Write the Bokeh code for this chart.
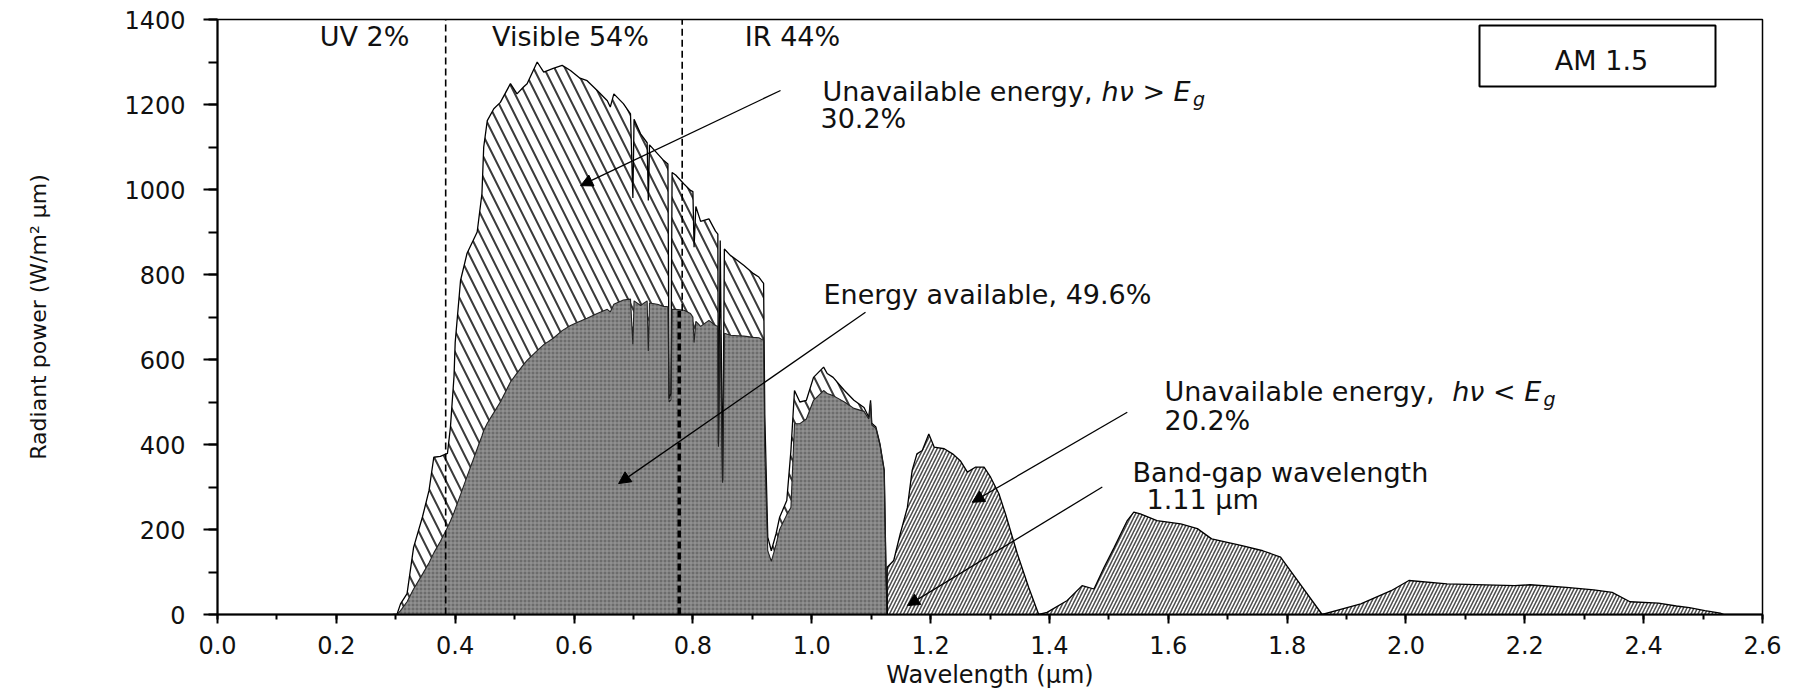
from bokeh.plotting import figure
from bokeh.models import (Range1d, SingleIntervalTicker, PrintfTickFormatter,
                          Label, Arrow, NormalHead, BoxAnnotation)
from bokeh.embed import file_html
from bokeh.resources import INLINE

# ---------------- data ----------------
# Spectrum above the band gap (lambda < 1.127 um)
wl_vis = [0.295, 0.302, 0.308, 0.319, 0.330, 0.345, 0.356, 0.364, 0.375, 0.387,
          0.392, 0.398, 0.400, 0.409, 0.420, 0.437, 0.445, 0.448, 0.454, 0.465,
          0.476, 0.493, 0.504, 0.515, 0.521, 0.538, 0.549, 0.565, 0.580, 0.594,
          0.610, 0.622, 0.639, 0.656, 0.661, 0.667, 0.683, 0.695, 0.699, 0.701,
          0.712, 0.723, 0.725, 0.727, 0.740, 0.751, 0.758, 0.760, 0.763, 0.765,
          0.771, 0.785, 0.796, 0.800, 0.802, 0.805, 0.813, 0.827, 0.838, 0.842,
          0.843, 0.846, 0.850, 0.853, 0.863, 0.875, 0.886, 0.902, 0.911, 0.919,
          0.921, 0.926, 0.932, 0.940, 0.946, 0.958, 0.965, 0.971, 0.980, 0.991,
          1.003, 1.020, 1.026, 1.036, 1.055, 1.071, 1.088, 1.096, 1.099, 1.101,
          1.108, 1.115, 1.122, 1.125, 1.127]
# total AM1.5 radiant power (outer curve)
irr_total = [0, 0, 25, 49, 158, 230, 292, 370, 372, 379,
             441, 560, 640, 786, 850, 900, 990, 1100, 1162, 1190,
             1205, 1249, 1225, 1241, 1249, 1300, 1276, 1285, 1292, 1280,
             1262, 1256, 1233, 1209, 1194, 1225, 1202, 1178, 980, 1165,
             1131, 1110, 974, 1105, 1085, 1068, 1060, 508, 520, 1040,
             1034, 1013, 998, 995, 864, 960, 925, 931, 902, 895,
             402, 880, 315, 860, 845, 833, 821, 802, 794, 779,
             470, 182, 150, 190, 229, 268, 386, 527, 500, 504,
             558, 582, 567, 558, 527, 504, 487, 464, 504, 450,
             441, 400, 340, 100, 0]
# energy available to the cell (inner, grey curve)
irr_available = [0, 0, 9, 30, 60, 95, 122, 145, 172, 205,
                 220, 240, 248, 282, 325, 390, 420, 433, 450, 475,
                 500, 547, 568, 588, 598, 621, 635, 650, 668, 680,
                 690, 697, 708, 718, 712, 730, 740, 742, 636, 738,
                 727, 738, 620, 733, 730, 725, 724, 500, 505, 718,
                 718, 716, 708, 700, 640, 690, 678, 692, 680, 678,
                 395, 670, 310, 662, 657, 656, 655, 652, 651, 645,
                 390, 150, 125, 165, 200, 235, 252, 449, 449, 460,
                 504, 527, 520, 515, 500, 485, 478, 460, 498, 446,
                 438, 398, 338, 100, 0]
# Spectrum below the band gap (lambda > 1.11 um)
wl_ir = [1.127, 1.127, 1.138, 1.149, 1.161, 1.169, 1.177, 1.186, 1.197, 1.206,
         1.223, 1.237, 1.250, 1.262, 1.276, 1.290, 1.301, 1.315, 1.326, 1.346,
         1.365, 1.382, 1.396, 1.430, 1.455, 1.475, 1.492, 1.509, 1.531, 1.542,
         1.553, 1.581, 1.621, 1.649, 1.673, 1.724, 1.759, 1.789, 1.859, 1.924,
         1.975, 2.005, 2.069, 2.183, 2.209, 2.270, 2.316, 2.347, 2.377, 2.425,
         2.455, 2.477, 2.503, 2.529, 2.535]
irr_ir = [0, 111, 127, 190, 252, 339, 378, 386, 425, 394,
          390, 378, 362, 335, 347, 347, 323, 284, 237, 143,
          64, 0, 5, 33, 68, 60, 111, 158, 221, 241,
          237, 221, 213, 202, 178, 162, 150, 135, 0, 25,
          56, 80, 72, 68, 70, 64, 58, 52, 30, 27,
          20, 16, 9, 3, 0]

uv_vis_edge = 0.384
vis_ir_edge = 0.78
band_labels = ["UV 2%", "Visible 54%", "IR 44%"]

FONT = "DejaVu Sans"
INK = "#111111"

# ---------------- figure ----------------
p = figure(width=1800, height=695, output_backend="svg", toolbar_location=None,
           title=None, x_range=Range1d(0, 2.6), y_range=Range1d(0, 1400),
           min_border_left=217, min_border_right=38, min_border_top=19,
           min_border_bottom=81)
p.xgrid.visible = False
p.ygrid.visible = False
p.outline_line_color = "black"
p.outline_line_width = 1.5
p.outline_line_alpha = 1.0
p.background_fill_color = "white"
p.border_fill_color = "white"

# helpers: reference-pixel layout positions -> data coordinates
def dx(X):
    return (X - 217) / (1545 / 2.6)

def dy(Y):
    return (614 - Y) * 1400 / 595

# ---------------- areas ----------------
p.varea(x=wl_vis, y1=[0] * len(wl_vis), y2=irr_total, fill_color="white",
        hatch_pattern="left_diagonal_line", hatch_color="#3a3a3a",
        hatch_weight=2, hatch_scale=21)
p.varea(x=wl_vis, y1=[0] * len(wl_vis), y2=irr_available, fill_color="#6c6c6c",
        hatch_pattern="cross", hatch_color="#9c9c9c", hatch_weight=1,
        hatch_scale=4)
p.varea(x=wl_ir, y1=[0] * len(wl_ir), y2=irr_ir, fill_color="white",
        hatch_pattern="right_diagonal_line", hatch_color="#505050",
        hatch_weight=1.6, hatch_scale=7)

p.line(wl_vis, irr_total, line_color="black", line_width=1.3)
p.line(wl_vis, irr_available, line_color="#222222", line_width=1.1)
p.line(wl_ir, irr_ir, line_color="black", line_width=1.3)

# ---------------- band boundaries ----------------
p.segment(x0=[uv_vis_edge], y0=[0], x1=[uv_vis_edge], y1=[1400],
          line_color="black", line_width=1.6, line_dash="7 4")
p.segment(x0=[vis_ir_edge + 0.002], y0=[715], x1=[vis_ir_edge + 0.002], y1=[1400],
          line_color="black", line_width=1.6, line_dash="7 4")
p.segment(x0=[vis_ir_edge - 0.003], y0=[0], x1=[vis_ir_edge - 0.003], y1=[715],
          line_color="black", line_width=3.5, line_dash="7 4")

# ---------------- axes ----------------
xa = p.xaxis[0]
xa.ticker = SingleIntervalTicker(interval=0.2, num_minor_ticks=2)
xa.formatter = PrintfTickFormatter(format="%.1f")
xa.major_tick_in = 0
xa.major_tick_out = 9
xa.minor_tick_in = 0
xa.minor_tick_out = 5
xa.major_label_standoff = 12
xa.axis_label = "Wavelength (µm)"
xa.axis_label_standoff = 4
xa.axis_label_text_font_size = "24px"

ya = p.yaxis[0]
ya.ticker = SingleIntervalTicker(interval=200, num_minor_ticks=2)
ya.major_tick_in = 0
ya.major_tick_out = 14
ya.minor_tick_in = 0
ya.minor_tick_out = 9
ya.major_label_standoff = 18
ya.axis_label = "Radiant power (W/m² µm)"
ya.axis_label_standoff = 70
ya.axis_label_text_font_size = "22px"

for ax in (xa, ya):
    ax.axis_line_width = 2
    ax.axis_line_color = "black"
    ax.major_tick_line_width = 2
    ax.minor_tick_line_width = 2
    ax.major_tick_line_color = "black"
    ax.minor_tick_line_color = "black"
    ax.major_label_text_font = FONT
    ax.major_label_text_font_size = "24px"
    ax.major_label_text_color = INK
    ax.axis_label_text_font = FONT
    ax.axis_label_text_font_style = "normal"
    ax.axis_label_text_color = INK

# ---------------- annotations ----------------
FS = 27
FSpx = f"{FS}px"

def label(x, y, text, align="left", size=FSpx, style="normal", xo=0, yo=0):
    p.add_layout(Label(x=x, y=y, text=text, text_font=FONT, text_font_size=size,
                       text_font_style=style, text_color=INK, text_align=align,
                       text_baseline="middle", x_offset=xo, y_offset=yo))

# spectral band labels
for txt, cx in zip(band_labels, [364, 570, 792]):
    label(dx(cx), dy(36), txt, align="center")

# hv > Eg
label(dx(822), dy(91), "Unavailable energy,")
label(dx(822), dy(91), "hν > E", style="italic", xo=10.337 * FS)
label(dx(822), dy(91), "g", style="italic", size="19px", xo=13.72 * FS, yo=-7)
label(dx(820), dy(118), "30.2%")

label(dx(823), dy(294), "Energy available, 49.6%")

# hv < Eg
label(dx(1164), dy(391), "Unavailable energy,")
label(dx(1164), dy(391), "hν < E", style="italic", xo=10.655 * FS)
label(dx(1164), dy(391), "g", style="italic", size="19px", xo=14.04 * FS, yo=-7)
label(dx(1164), dy(420), "20.2%")

label(dx(1132), dy(472), "Band-gap wavelength")
label(dx(1146), dy(499), "1.11 µm")

# AM 1.5 box
p.add_layout(BoxAnnotation(left=dx(1479), right=dx(1715), top=dy(25), bottom=dy(86),
                           fill_color="white", fill_alpha=1.0, line_color="black",
                           line_width=2, line_alpha=1.0))
label(dx(1601), dy(60), "AM 1.5", align="center")

# arrows
arrows = [((0.9475, 1233), (0.611, 1009)),
          ((1.0905, 711), (0.675, 308)),
          ((1.531, 476), (1.270, 264)),
          ((1.489, 300), (1.161, 21))]
for (xs, ys), (xe, ye) in arrows:
    p.add_layout(Arrow(end=NormalHead(size=12, fill_color="black", line_color="black",
                                      line_width=1),
                       x_start=xs, y_start=ys, x_end=xe, y_end=ye,
                       line_color="black", line_width=1.3))

open("out.html", "w").write(file_html(p, INLINE))
